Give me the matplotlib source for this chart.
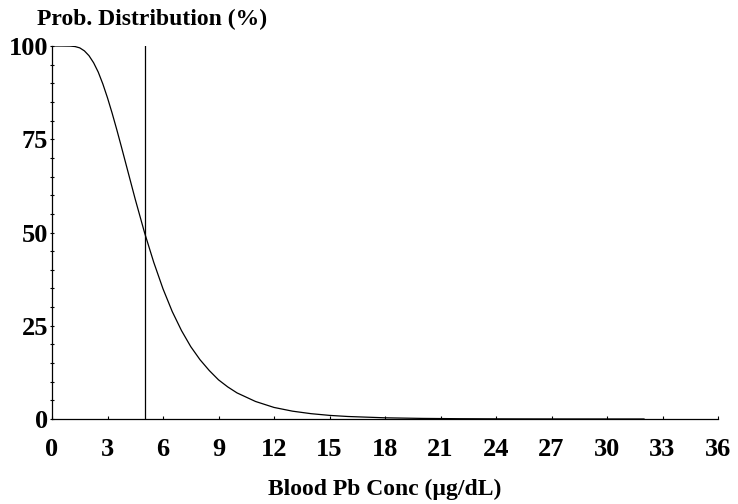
import matplotlib.pyplot as plt
from matplotlib.ticker import MultipleLocator

# probability curve points (x in ug/dL, y in %)
conc = [0, 0.5, 1, 1.25, 1.5, 1.75, 2, 2.25, 2.5, 2.75, 3, 3.25, 3.5, 3.75,
        4, 4.5, 5, 5.5, 6, 6.5, 7, 7.5, 8, 8.5, 9, 9.5, 10, 11, 12, 13, 14,
        15, 16, 18, 20, 22, 24, 26, 28, 30, 32]
prob = [100, 100, 99.97, 99.85, 99.5, 98.7, 97.4, 95.5, 93.0, 89.8, 86.1,
        82.0, 77.6, 73.0, 68.3, 58.9, 50.0, 42.0, 34.9, 28.8, 23.7, 19.4,
        15.9, 13.0, 10.5, 8.6, 7.0, 4.7, 3.1, 2.1, 1.43, 0.97, 0.67, 0.32,
        0.16, 0.08, 0.04, 0.02, 0.01, 0.006, 0.003]
cutoff = 5
x_ticks = [0, 3, 6, 9, 12, 15, 18, 21, 24, 27, 30, 33, 36]
y_ticks = [0, 25, 50, 75, 100]

plt.rcParams['font.family'] = ['Liberation Serif', 'DejaVu Serif']
plt.rcParams['font.weight'] = 'bold'

fig = plt.figure(figsize=(7.38, 5.04), dpi=100)
ax = fig.add_axes([52/738, 1 - 419/504, 666/738, 373/504])

ax.plot(conc, prob, color='black', lw=0.9)
ax.plot([cutoff, cutoff], [0, 100], color='black', lw=0.9)

ax.set_xlim(0, 36)
ax.set_ylim(0, 100)
ax.set_xticks(x_ticks)
ax.set_yticks(y_ticks)
ax.yaxis.set_minor_locator(MultipleLocator(5))

for s in ['top', 'right']:
    ax.spines[s].set_visible(False)
for s in ['left', 'bottom']:
    ax.spines[s].set_linewidth(0.9)

ax.tick_params(axis='x', direction='in', length=2.5, width=0.8, pad=14,
               labelsize=19)
ax.tick_params(axis='y', which='both', direction='inout', length=3.5,
               width=0.8, pad=1, labelsize=19)
for lab in ax.get_xticklabels() + ax.get_yticklabels():
    lab.set_fontweight('bold')

fig.text(152/738, 1 - 19/504, 'Prob. Distribution (%)', ha='center',
         va='center', fontsize=17, fontweight='bold')
fig.text(385/738, 1 - 489/504, 'Blood Pb Conc (µg/dL)', ha='center',
         va='center', fontsize=17, fontweight='bold')

fig.savefig('out.png', dpi=100)
